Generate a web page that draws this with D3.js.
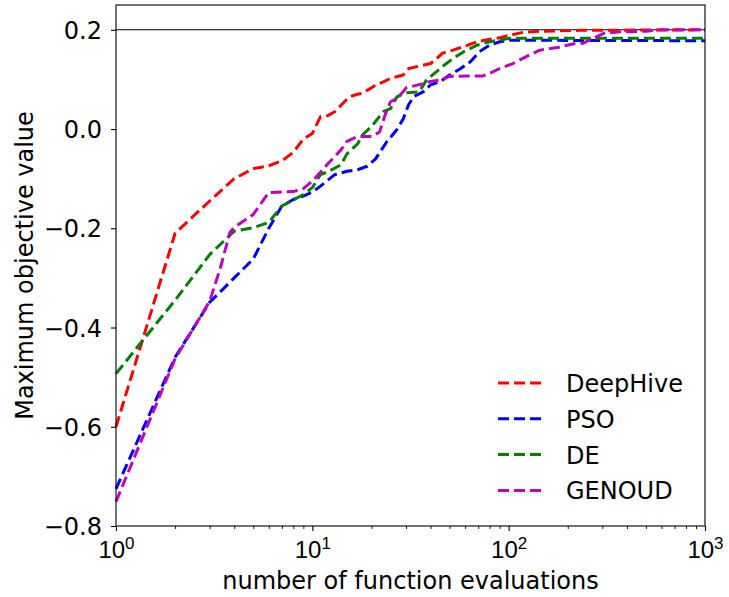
<!DOCTYPE html>
<html>
<head>
<meta charset="utf-8">
<script src="https://cdn.jsdelivr.net/npm/d3@7"></script>
<style>
  body { margin: 0; background: #fff; }
  svg { font-family: "DejaVu Sans", sans-serif; }
</style>
</head>
<body>
<svg id="chart" width="729" height="597"></svg>
<script>
// series: x = number of function evaluations, y = maximum objective value
var seriesNames = ["DeepHive", "PSO", "DE", "GENOUD"];
var seriesColors = ["#ff0000", "#0000ff", "#008000", "#bf00bf"];

var deepHiveX = [1, 2, 3, 4, 5, 6, 7, 8, 9, 10, 11, 12, 13, 14, 15, 16, 17, 18, 19, 20, 21, 23, 25, 29, 31, 37, 40, 43, 46, 52, 59, 69, 80, 90, 101, 119, 144, 230, 1000];
var deepHiveY = [-0.60, -0.21, -0.145, -0.100, -0.080, -0.074, -0.064, -0.047, -0.020, -0.009, 0.025, 0.027, 0.035, 0.048, 0.060, 0.067, 0.070, 0.072, 0.078, 0.083, 0.089, 0.095, 0.102, 0.109, 0.122, 0.129, 0.132, 0.142, 0.153, 0.159, 0.166, 0.176, 0.181, 0.184, 0.189, 0.195, 0.197, 0.199, 0.200];

var psoX = [1, 2, 3, 3.3, 4, 5, 6, 7, 8, 9, 10, 11, 13, 15, 17, 19, 21, 24, 27, 29, 31, 33, 35, 37, 40, 45, 50, 57, 64, 71, 80, 90, 101, 1000];
var psoY = [-0.725, -0.46, -0.349, -0.333, -0.300, -0.262, -0.200, -0.155, -0.142, -0.135, -0.127, -0.115, -0.092, -0.085, -0.082, -0.075, -0.060, -0.025, -0.001, 0.020, 0.050, 0.066, 0.071, 0.076, 0.089, 0.096, 0.109, 0.122, 0.136, 0.156, 0.169, 0.176, 0.179, 0.178];

var deX = [1, 2, 3, 4, 5, 6, 7, 8, 9, 10, 11, 12, 14, 15, 17, 18, 20, 23, 25, 27, 30, 35, 38, 41, 46, 52, 59, 69, 80, 101, 1000];
var deY = [-0.493, -0.345, -0.253, -0.206, -0.199, -0.188, -0.155, -0.143, -0.132, -0.118, -0.092, -0.086, -0.072, -0.050, -0.030, -0.012, 0.005, 0.035, 0.041, 0.065, 0.073, 0.075, 0.098, 0.109, 0.126, 0.142, 0.156, 0.169, 0.176, 0.183, 0.183];

var genoudX = [1, 2, 3, 3.4, 3.8, 4, 5, 6, 7, 8, 9, 10, 11, 12, 14, 15, 17, 20, 22, 23.5, 25, 27, 29, 30, 33, 37, 40, 45, 50, 61, 74, 80, 90, 105, 123, 144, 180, 215, 240, 265, 305, 370, 500, 590, 1000];
var genoudY = [-0.751, -0.463, -0.347, -0.280, -0.209, -0.198, -0.172, -0.128, -0.127, -0.126, -0.120, -0.105, -0.087, -0.070, -0.042, -0.025, -0.015, -0.015, -0.006, 0.029, 0.055, 0.062, 0.075, 0.083, 0.087, 0.092, 0.096, 0.099, 0.106, 0.107, 0.107, 0.112, 0.122, 0.132, 0.146, 0.159, 0.165, 0.172, 0.173, 0.182, 0.193, 0.196, 0.197, 0.200, 0.200];

var seriesX = [deepHiveX, psoX, deX, genoudX];
var seriesY = [deepHiveY, psoY, deY, genoudY];

var xMajorTicks = [1, 10, 100, 1000];
var xTickExponents = ["0", "1", "2", "3"];
var yTicks = [-0.8, -0.6, -0.4, -0.2, 0.0, 0.2];
var refLine = 0.2;

var xLabel = "number of function evaluations";
var yLabel = "Maximum objective value";

var ctx = {
    left: 116, right: 705, top: 5, bottom: 526,
    fontSize: 24
};

var svgEl = d3.select("#chart");

var x = d3.scaleLog().domain([1, 1000]).range([ctx.left, ctx.right]);
var y = d3.scaleLinear().domain([-0.8, 0.25]).range([ctx.bottom, ctx.top]);

// minor ticks on the log axis
var minorTicks = [];
[1, 10, 100].forEach(function(d) {
    for (var k = 2; k <= 9; k++) minorTicks.push(d * k);
});

var minorG = svgEl.append("g")
    .attr("transform", "translate(0," + ctx.bottom + ")")
    .call(d3.axisBottom(x).tickValues(minorTicks).tickSize(3).tickSizeOuter(0).tickFormat(""));
minorG.select(".domain").remove();
minorG.selectAll("line").attr("stroke", "#000").attr("stroke-width", 0.9);

var xAxisG = svgEl.append("g")
    .attr("transform", "translate(0," + ctx.bottom + ")")
    .call(d3.axisBottom(x).tickValues(xMajorTicks).tickSize(5).tickSizeOuter(0).tickFormat(""));
xAxisG.select(".domain").remove();
xAxisG.selectAll("line").attr("stroke", "#000").attr("stroke-width", 1.1);

// 10^n labels with superscript
xAxisG.selectAll(".tick").append("text")
    .attr("y", 31.5)
    .attr("fill", "#000")
    .attr("text-anchor", "middle")
    .attr("font-size", ctx.fontSize)
    .each(function(d, i) {
        var t = d3.select(this);
        t.append("tspan").text("10");
        t.append("tspan")
            .attr("font-size", 17)
            .attr("dy", -9)
            .text(xTickExponents[i]);
    });

var yAxisG = svgEl.append("g")
    .attr("transform", "translate(" + ctx.left + ",0)")
    .call(d3.axisLeft(y).tickValues(yTicks).tickSize(5).tickSizeOuter(0).tickPadding(9).tickFormat(d3.format(".1f")));
yAxisG.select(".domain").remove();
yAxisG.selectAll("line").attr("stroke", "#000").attr("stroke-width", 1.1);
yAxisG.selectAll("text")
    .attr("font-size", ctx.fontSize)
    .attr("font-family", "DejaVu Sans")
    .attr("fill", "#000")
    .attr("dy", "0.36em");

// horizontal reference line
svgEl.append("line")
    .attr("x1", ctx.left).attr("x2", ctx.right)
    .attr("y1", y(refLine)).attr("y2", y(refLine))
    .attr("stroke", "#000")
    .attr("stroke-width", 1.1);

// curves
var line = d3.line()
    .x(function(d) { return x(d[0]); })
    .y(function(d) { return y(d[1]); });

var plotG = svgEl.append("g");
seriesNames.forEach(function(s, i) {
    var pts = seriesX[i].map(function(v, j) { return [v, seriesY[i][j]]; });
    plotG.append("path")
        .datum(pts)
        .attr("d", line)
        .attr("fill", "none")
        .attr("stroke", seriesColors[i])
        .attr("stroke-width", 3)
        .attr("stroke-dasharray", "11,5")
        .attr("stroke-linejoin", "round");
});

// frame
svgEl.append("rect")
    .attr("x", ctx.left).attr("y", ctx.top)
    .attr("width", ctx.right - ctx.left)
    .attr("height", ctx.bottom - ctx.top)
    .attr("fill", "none")
    .attr("stroke", "#000")
    .attr("stroke-width", 1.1);

// legend
var legendG = svgEl.append("g").attr("transform", "translate(498,383)");
seriesNames.forEach(function(s, i) {
    var row = legendG.append("g").attr("transform", "translate(0," + (i * 35.8) + ")");
    row.append("line")
        .attr("x1", 0).attr("x2", 47)
        .attr("y1", 0).attr("y2", 0)
        .attr("stroke", seriesColors[i])
        .attr("stroke-width", 3)
        .attr("stroke-dasharray", "11,5");
    row.append("text")
        .attr("x", 68)
        .attr("y", 9)
        .attr("font-size", ctx.fontSize)
        .attr("fill", "#000")
        .text(s);
});

// axis labels
svgEl.append("text")
    .attr("x", (ctx.left + ctx.right) / 2)
    .attr("y", 589)
    .attr("text-anchor", "middle")
    .attr("font-size", ctx.fontSize)
    .attr("fill", "#000")
    .text(xLabel);

svgEl.append("text")
    .attr("transform", "translate(33," + ((ctx.top + ctx.bottom) / 2) + ") rotate(-90)")
    .attr("text-anchor", "middle")
    .attr("font-size", ctx.fontSize)
    .attr("fill", "#000")
    .text(yLabel);
</script>
</body>
</html>
